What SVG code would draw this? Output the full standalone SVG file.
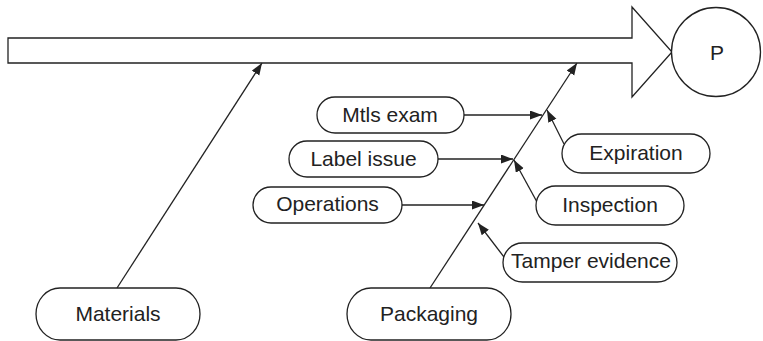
<svg xmlns="http://www.w3.org/2000/svg" width="763" height="341" viewBox="0 0 763 341">
  <style>
    .shape { fill: #ffffff; stroke: #222222; stroke-width: 1.3; }
    .node { fill: #ffffff; stroke: #222222; stroke-width: 1.3; }
    .label { font-family: "Liberation Sans", Arial, sans-serif; font-size: 21px; fill: #222222; text-anchor: middle; }
    .link { stroke: #222222; stroke-width: 1.3; fill: none; marker-end: url(#head); }
  </style>
  <defs>
    <marker id="head" markerUnits="userSpaceOnUse" markerWidth="13" markerHeight="10" refX="12" refY="4.5" orient="auto">
      <path d="M0,0 L12,4.5 L0,9 z" fill="#222222"/>
    </marker>
  </defs>

  <!-- main spine arrow and effect -->
  <g id="spine">
    <path class="shape" d="M8,38 L632,38 L632,7 L672,52 L632,97 L632,63 L8,63 Z"/>
  </g>
  <g id="effect">
    <circle class="shape" cx="716" cy="52" r="44.5"/>
    <text class="label" x="717" y="60">P</text>
  </g>

  <!-- connectors -->
  <g id="connectors">
    <line class="link" x1="117" y1="288" x2="262" y2="63"/>
    <line class="link" x1="430" y1="288" x2="577" y2="63"/>
    <line class="link" x1="464" y1="115" x2="542" y2="115"/>
    <line class="link" x1="438" y1="159" x2="513" y2="159"/>
    <line class="link" x1="402" y1="205" x2="484" y2="205"/>
    <line class="link" x1="564" y1="144" x2="547" y2="110"/>
    <line class="link" x1="537" y1="202" x2="514" y2="160"/>
    <line class="link" x1="504" y1="257" x2="478" y2="223"/>
  </g>

  <!-- cause nodes -->
  <g id="materials">
    <rect class="node" x="36" y="288" width="164" height="52" rx="24" ry="26"/>
    <text class="label" x="118" y="321">Materials</text>
  </g>
  <g id="packaging">
    <rect class="node" x="347" y="288" width="164" height="52" rx="24" ry="26"/>
    <text class="label" x="429" y="321">Packaging</text>
  </g>
  <g id="mtls-exam">
    <rect class="node" x="317" y="97" width="147" height="36" rx="18"/>
    <text class="label" x="390" y="122">Mtls exam</text>
  </g>
  <g id="label-issue">
    <rect class="node" x="289" y="141" width="149" height="36" rx="18"/>
    <text class="label" x="363.5" y="166">Label issue</text>
  </g>
  <g id="operations">
    <rect class="node" x="253" y="187" width="149" height="36" rx="18"/>
    <text class="label" x="327.5" y="211">Operations</text>
  </g>
  <g id="expiration">
    <rect class="node" x="562" y="134" width="148" height="39" rx="19.5"/>
    <text class="label" x="636" y="160">Expiration</text>
  </g>
  <g id="inspection">
    <rect class="node" x="536" y="186" width="148" height="39" rx="19.5"/>
    <text class="label" x="610" y="212">Inspection</text>
  </g>
  <g id="tamper-evidence">
    <rect class="node" x="503" y="243" width="174" height="39" rx="19.5"/>
    <text class="label" x="591" y="268">Tamper evidence</text>
  </g>
</svg>
